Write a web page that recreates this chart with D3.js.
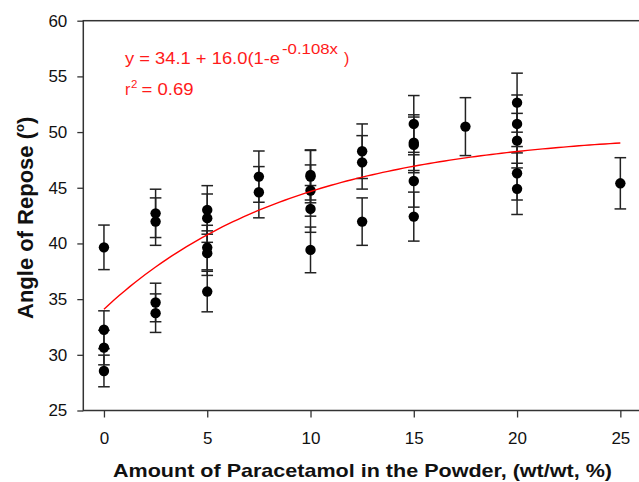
<!DOCTYPE html>
<html>
<head>
<meta charset="utf-8">
<script src="https://cdn.jsdelivr.net/npm/d3@7"></script>
<style>
  html, body { margin: 0; padding: 0; background: #fff; }
  svg { display: block; }
  text { font-family: "Liberation Sans", Arial, sans-serif; }
</style>
</head>
<body>
<svg id="chart" width="639" height="482"></svg>
<script>
// ---- data ----
const doses = [0, 0, 0, 0,
  2.5, 2.5, 2.5, 2.5,
  5, 5, 5, 5, 5,
  7.5, 7.5,
  10, 10, 10, 10, 10,
  12.5, 12.5, 12.5,
  15, 15, 15, 15, 15,
  17.5,
  20, 20, 20, 20, 20,
  25];
const angles = [39.65, 32.25, 30.65, 28.55,
  42.70, 41.96, 34.70, 33.74,
  43.01, 42.27, 39.63, 39.13, 35.68,
  46.00, 44.60,
  46.15, 46.00, 44.75, 43.10, 39.42,
  48.28, 47.28, 41.96,
  50.73, 49.05, 48.85, 45.61, 42.41,
  50.49,
  52.64, 50.73, 49.23, 46.30, 44.90,
  45.40];
const errors = [2.0, 1.7, 1.55, 1.42,
  2.17, 2.13, 1.73, 1.73,
  2.18, 2.17, 2.0, 2.0, 1.82,
  2.3, 2.3,
  2.25, 2.35, 2.3, 2.1, 2.05,
  2.45, 2.4, 2.13,
  2.55, 2.5, 2.5, 2.35, 2.2,
  2.6,
  2.65, 2.6, 2.45, 2.4, 2.3,
  2.3];
// fitted model parameters y = a + b(1 - e^(-k x)), as printed on the chart
const fitParams = [34.1, 16.0, 0.108];
const fitRange = [0, 25];
const xTicks = [0, 5, 10, 15, 20, 25];
const yTicks = [25, 30, 35, 40, 45, 50, 55, 60];
const xTitle = "Amount of Paracetamol in the Powder, (wt/wt, %)";
const yTitle = "Angle of Repose (";
const eqMain = "y = 34.1 + 16.0(1-e";
const eqSup = "-0.108x";
const r2Text = "= 0.69";

// ---- layout ----
const svg = d3.select("#chart");
const L = 83.3, R = 641, T = 20.7, B = 410.5;
const x = d3.scaleLinear().domain([-1, 26]).range([L, R]);
const y = d3.scaleLinear().domain([25, 60]).range([B, T]);
const axisColor = "#333";

// axes
const gy = svg.append("g").attr("transform", `translate(${L},0)`)
  .call(d3.axisLeft(y).tickValues(yTicks).tickSize(6).tickPadding(10).tickFormat(d3.format("d")));
const gx = svg.append("g").attr("transform", `translate(0,${B})`)
  .call(d3.axisBottom(x).tickValues(xTicks).tickSize(7).tickPadding(14).tickFormat(d3.format("d")));
[gx, gy].forEach(g => {
  g.select(".domain").remove();
  g.selectAll(".tick line").attr("stroke", axisColor).attr("stroke-width", 1.3);
  g.selectAll(".tick text").attr("font-size", 17).attr("fill", "#111")
    .attr("font-family", "'Liberation Sans', Arial, sans-serif");
});

// frame
svg.append("rect").attr("x", L).attr("y", T).attr("width", R - L).attr("height", B - T)
  .attr("fill", "none").attr("stroke", axisColor).attr("stroke-width", 1.5);

// error bars
const pts = doses.map((d, i) => ({x: d, y: angles[i], e: errors[i]}));
const cap = 5.8;
const eb = svg.append("g").attr("stroke", "#222").attr("stroke-width", 1.5).attr("fill", "none");
pts.forEach(p => {
  const cx = x(p.x), y1 = y(p.y + p.e), y2 = y(p.y - p.e);
  eb.append("line").attr("x1", cx).attr("x2", cx).attr("y1", y1).attr("y2", y2);
  eb.append("line").attr("x1", cx - cap).attr("x2", cx + cap).attr("y1", y1).attr("y2", y1);
  eb.append("line").attr("x1", cx - cap).attr("x2", cx + cap).attr("y1", y2).attr("y2", y2);
});

// points
svg.append("g").selectAll("circle").data(pts).join("circle")
  .attr("cx", d => x(d.x)).attr("cy", d => y(d.y)).attr("r", 5.2).attr("fill", "#000");

// fitted curve
const [a, b, k] = fitParams;
const curve = d3.range(fitRange[0], fitRange[1] + 0.001, 0.25).map(v => [v, a + b * (1 - Math.exp(-k * v))]);
svg.append("path").datum(curve)
  .attr("d", d3.line().x(d => x(d[0])).y(d => y(d[1])))
  .attr("fill", "none").attr("stroke", "#ff0000").attr("stroke-width", 1.4);

// equation text
const red = "#ff1a1a";
svg.append("text").attr("x", 125).attr("y", 63.5).attr("font-size", 16).attr("fill", red)
  .attr("textLength", 155).attr("lengthAdjust", "spacingAndGlyphs").text(eqMain);
svg.append("text").attr("x", 282).attr("y", 54).attr("font-size", 15).attr("fill", red)
  .attr("textLength", 56).attr("lengthAdjust", "spacingAndGlyphs").text(eqSup);
svg.append("text").attr("x", 344).attr("y", 64).attr("font-size", 16).attr("fill", red).text(")");
svg.append("text").attr("x", 125).attr("y", 95).attr("font-size", 16).attr("fill", red).text("r");
svg.append("text").attr("x", 131).attr("y", 88).attr("font-size", 11.5).attr("fill", red).text("2");
svg.append("text").attr("x", 141.5).attr("y", 95).attr("font-size", 16).attr("fill", red)
  .attr("textLength", 52).attr("lengthAdjust", "spacingAndGlyphs").text(r2Text);

// axis titles
svg.append("text").attr("x", 113).attr("y", 476.5).attr("font-size", 19).attr("font-weight", "bold")
  .attr("fill", "#111").attr("textLength", 499).attr("lengthAdjust", "spacingAndGlyphs").text(xTitle);

const yt = svg.append("text").attr("transform", "translate(33,319) rotate(-90)")
  .attr("font-size", 22).attr("font-weight", "bold").attr("fill", "#111");
yt.append("tspan").text(yTitle);
yt.append("tspan").attr("font-size", 13).attr("dy", -9).text("o");
yt.append("tspan").attr("dy", 9).text(")");
</script>
</body>
</html>
